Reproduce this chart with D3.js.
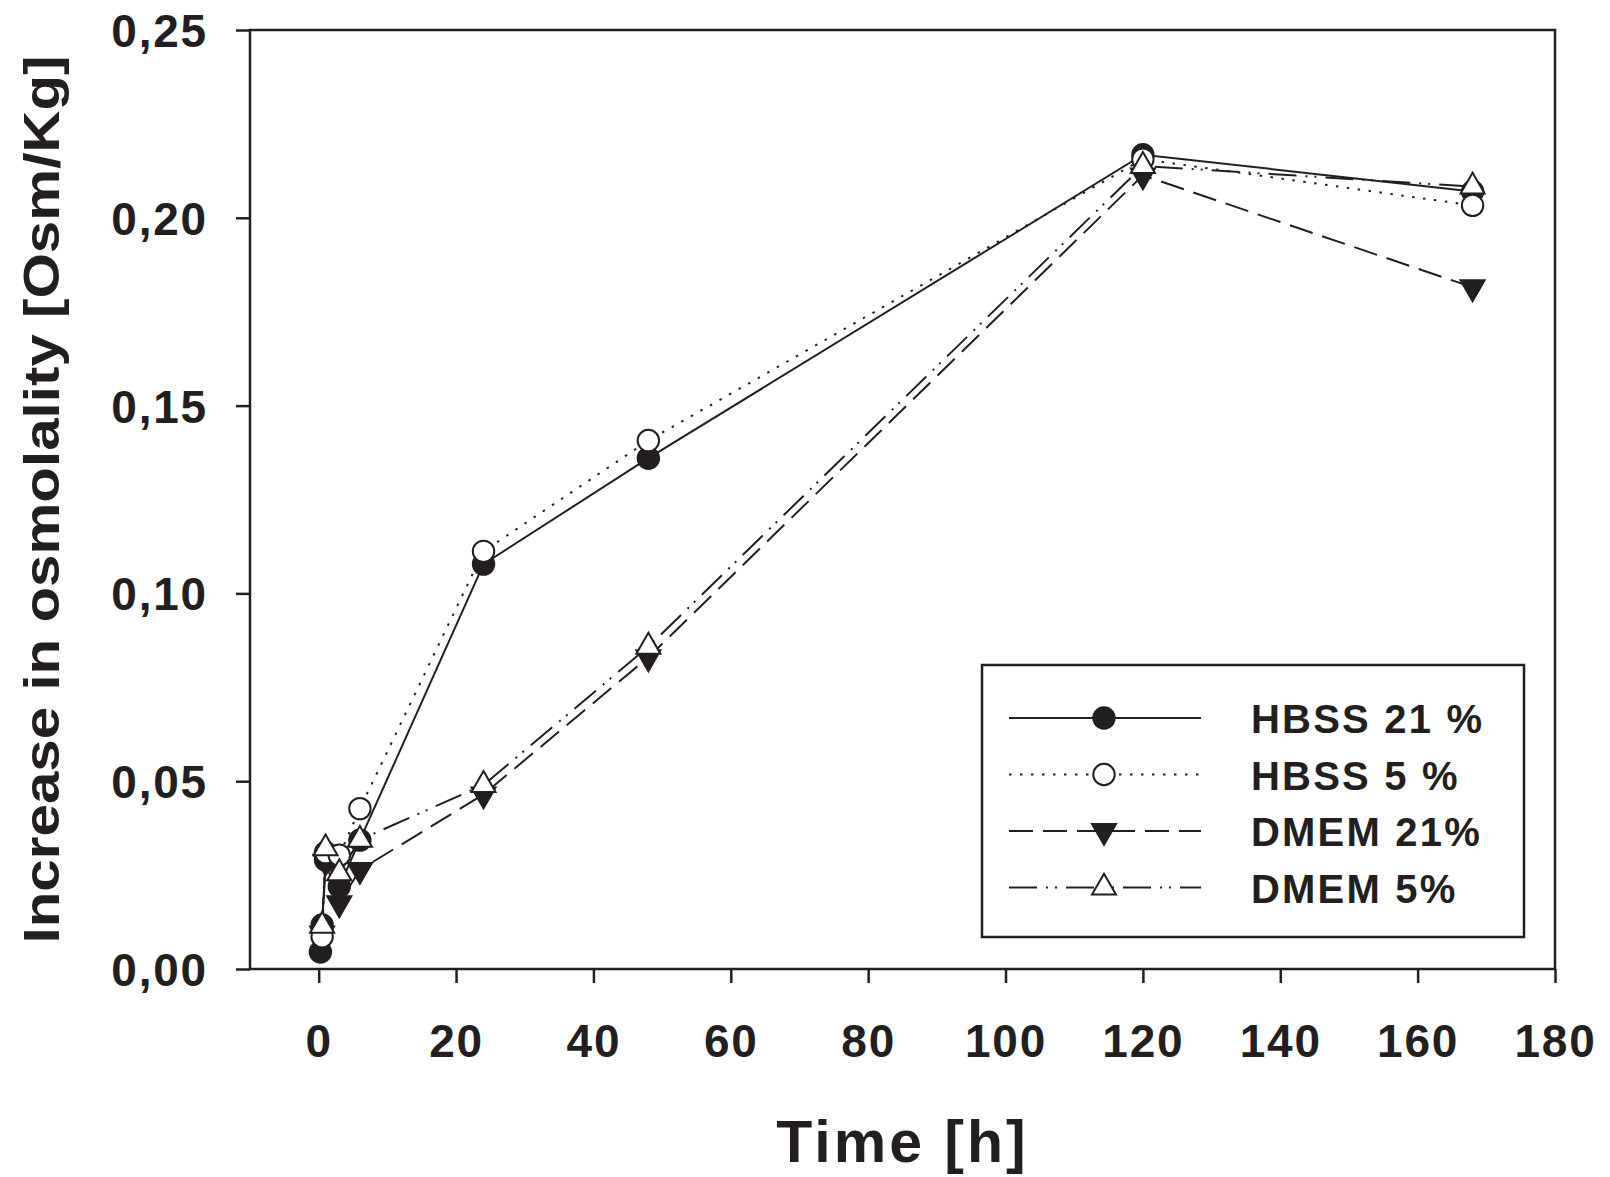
<!DOCTYPE html>
<html>
<head>
<meta charset="utf-8">
<script src="https://cdnjs.cloudflare.com/ajax/libs/d3/7.8.5/d3.min.js"></script>
<style>
	body { margin: 0; background: #fff; }
	text { font-family: "Liberation Sans", Arial, sans-serif; font-weight: bold; fill: #231f20; }
</style>
</head>
<body>
<div id="chart"></div>
<script>
var chart_width = 1610;
var chart_height = 1177;

// Data
var times = [0.25, 0.5, 1, 3, 6, 24, 48, 120, 168];
var hbss21 = [0.0045, 0.0117, 0.0290, 0.0220, 0.0343, 0.1078, 0.1360, 0.2168, 0.2070];
var hbss5 = [null, 0.0086, 0.0310, 0.0303, 0.0427, 0.1112, 0.1407, 0.2156, 0.2033];
var dmem21 = [null, 0.0095, 0.0286, 0.0175, 0.0264, 0.0465, 0.0830, 0.2113, 0.1815];
var dmem5 = [null, 0.0115, 0.0321, 0.0255, 0.0344, 0.0490, 0.0858, 0.2138, 0.2083];
var series_names = ['HBSS 21 %', 'HBSS 5 %', 'DMEM 21%', 'DMEM 5%'];
var x_ticks = [0, 20, 40, 60, 80, 100, 120, 140, 160, 180];
var y_ticks = [0, 0.05, 0.10, 0.15, 0.20, 0.25];

var ink = '#231f20';
var margin = {left: 250, right: 55, top: 30, bottom: 208};

var svg = d3.select('#chart')
			.append('svg')
			.attr('width', chart_width)
			.attr('height', chart_height);

// Scales
var x = d3.scaleLinear()
			.domain([-10, 180])
			.range([margin.left, chart_width - margin.right]);
var y = d3.scaleLinear()
			.domain([0, 0.25])
			.range([chart_height - margin.bottom, margin.top]);

// Series styles
var series = [
	{name: series_names[0], values: hbss21, dash: null, symbol: d3.symbolCircle, size: 360, fill: ink, rotate: 0},
	{name: series_names[1], values: hbss5, dash: '2.5,8.5', symbol: d3.symbolCircle, size: 360, fill: '#fff', rotate: 0},
	{name: series_names[2], values: dmem21, dash: '24,10', symbol: d3.symbolTriangle, size: 250, fill: ink, rotate: 180},
	{name: series_names[3], values: dmem5, dash: '28,9,2,7,2,9', symbol: d3.symbolTriangle, size: 250, fill: '#fff', rotate: 0}
];

// Axes
var xAxis = d3.axisBottom(x).tickValues(x_ticks).tickSize(14).tickPadding(40)
			.tickFormat(d3.format('d'));
var yAxis = d3.axisLeft(y).tickValues(y_ticks).tickSize(14).tickPadding(28)
			.tickFormat(function(d){ return d3.format('.2f')(d).replace('.', ','); });

var gx = svg.append('g')
			.attr('transform', 'translate(0,' + y(0) + ')')
			.call(xAxis);
var gy = svg.append('g')
			.attr('transform', 'translate(' + x(-10) + ',0)')
			.call(yAxis);

[gx, gy].forEach(function(g){
	g.select('.domain').remove();
	g.selectAll('line').attr('stroke', ink).attr('stroke-width', 2.5);
	g.selectAll('text')
		.attr('fill', ink)
		.style('font-size', '46px')
		.style('letter-spacing', '1.8px')
		.attr('font-family', null);
});
gy.selectAll('text').attr('dy', '0.36em');
gx.selectAll('text').attr('dy', '0.36em').attr('y', 71);

// Frame
svg.append('rect')
	.attr('x', x(-10))
	.attr('y', y(0.25))
	.attr('width', x(180) - x(-10))
	.attr('height', y(0) - y(0.25))
	.attr('fill', 'none')
	.attr('stroke', ink)
	.attr('stroke-width', 2.5);

// Lines
var line = d3.line()
			.defined(function(d){ return d.v !== null; })
			.x(function(d){ return x(d.t); })
			.y(function(d){ return y(d.v); });

function points(s){
	return times.map(function(t, i){ return {t: t, v: s.values[i]}; });
}

series.forEach(function(s){
	svg.append('path')
		.datum(points(s))
		.attr('d', line)
		.attr('fill', 'none')
		.attr('stroke', ink)
		.attr('stroke-width', 2)
		.attr('stroke-dasharray', s.dash);
});

// Markers
[series[0], series[2], series[1], series[3]].forEach(function(s){
	svg.append('g')
		.selectAll('path')
		.data(points(s).filter(function(d){ return d.v !== null; }))
		.enter()
		.append('path')
		.attr('d', d3.symbol().type(s.symbol).size(s.size))
		.attr('transform', function(d){
			return 'translate(' + x(d.t) + ',' + y(d.v) + ') rotate(' + s.rotate + ')';
		})
		.attr('fill', s.fill)
		.attr('stroke', ink)
		.attr('stroke-width', 2);
});

// Axis titles
svg.append('text')
	.attr('x', (x(-10) + x(180)) / 2)
	.attr('y', 1162)
	.attr('text-anchor', 'middle')
	.style('font-size', '59px')
	.style('letter-spacing', '3px')
	.text('Time [h]');

svg.append('text')
	.attr('transform', 'translate(59,' + (y(0) + y(0.25)) / 2 + ') rotate(-90)')
	.attr('text-anchor', 'middle')
	.attr('textLength', 888)
	.attr('lengthAdjust', 'spacingAndGlyphs')
	.style('font-size', '50px')
	.text('Increase in osmolality [Osm/Kg]');

// Legend
var legend = svg.append('g');
legend.append('rect')
	.attr('x', 982)
	.attr('y', 665)
	.attr('width', 542)
	.attr('height', 272)
	.attr('fill', '#fff')
	.attr('stroke', ink)
	.attr('stroke-width', 2.5);

var rows = legend.selectAll('g.row')
			.data(series)
			.enter()
			.append('g')
			.attr('transform', function(d, i){ return 'translate(0,' + (718 + i * 56.5) + ')'; });

rows.append('line')
	.attr('x1', 1009)
	.attr('x2', 1201)
	.attr('stroke', ink)
	.attr('stroke-width', 2)
	.attr('stroke-dasharray', function(d){ return d.dash; });

rows.append('path')
	.attr('d', function(d){ return d3.symbol().type(d.symbol).size(d.size)(); })
	.attr('transform', function(d){ return 'translate(1104,0) rotate(' + d.rotate + ')'; })
	.attr('fill', function(d){ return d.fill; })
	.attr('stroke', ink)
	.attr('stroke-width', 2);

rows.append('text')
	.attr('x', 1251)
	.attr('y', 15)
	.style('font-size', '40px')
	.style('letter-spacing', '2.2px')
	.text(function(d){ return d.name; });
</script>
</body>
</html>
